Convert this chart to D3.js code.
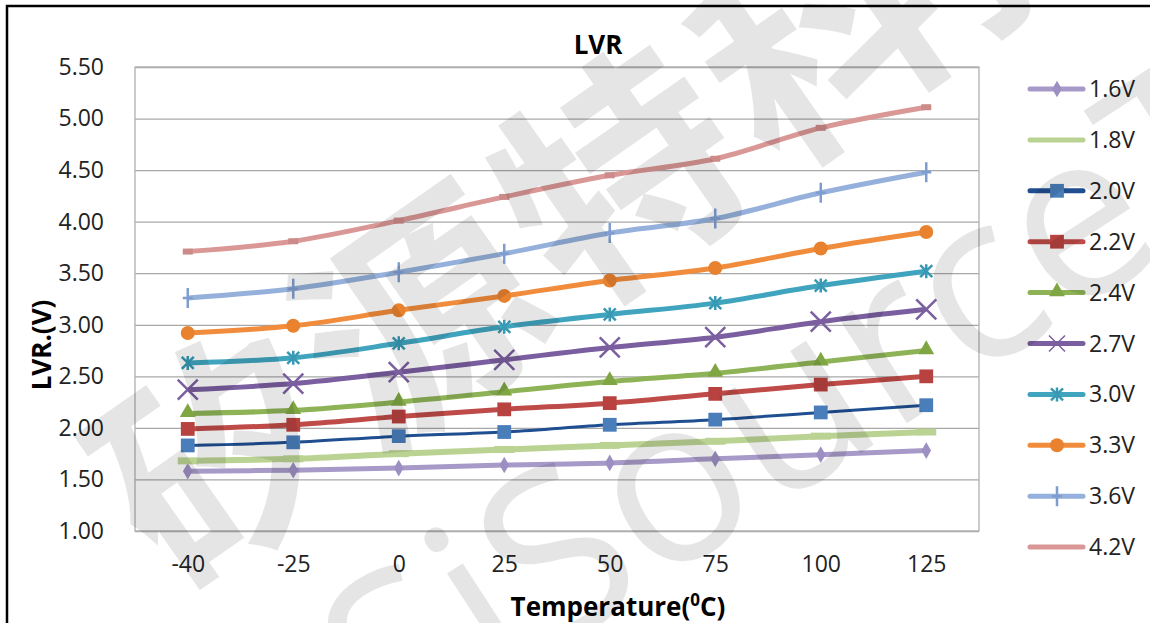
<!DOCTYPE html>
<html>
<head>
<meta charset="utf-8">
<script src="https://cdn.jsdelivr.net/npm/d3@7"></script>
<style>
  body { margin: 0; background: #fff; }
  svg text { font-family: "Open Sans", "Noto Sans", sans-serif; }
</style>
</head>
<body>
<svg id="svg" width="1150" height="623"></svg>
<script>
// temperatures on x axis
var temps = ['-40', '-25', '0', '25', '50', '75', '100', '125'];
var yTicks = [1.00, 1.50, 2.00, 2.50, 3.00, 3.50, 4.00, 4.50, 5.00, 5.50];

var names = ['1.6V', '1.8V', '2.0V', '2.2V', '2.4V', '2.7V', '3.0V', '3.3V', '3.6V', '4.2V'];
var v16 = [1.58, 1.59, 1.61, 1.64, 1.66, 1.70, 1.74, 1.78];
var v18 = [1.68, 1.70, 1.75, 1.79, 1.83, 1.87, 1.92, 1.96];
var v20 = [1.83, 1.86, 1.92, 1.96, 2.03, 2.08, 2.15, 2.22];
var v22 = [1.99, 2.03, 2.11, 2.18, 2.24, 2.33, 2.42, 2.50];
var v24 = [2.14, 2.17, 2.25, 2.35, 2.45, 2.53, 2.64, 2.75];
var v27 = [2.37, 2.43, 2.54, 2.66, 2.78, 2.88, 3.03, 3.15];
var v30 = [2.63, 2.68, 2.82, 2.98, 3.10, 3.21, 3.38, 3.52];
var v33 = [2.92, 2.99, 3.14, 3.28, 3.43, 3.55, 3.74, 3.90];
var v36 = [3.26, 3.35, 3.51, 3.69, 3.89, 4.03, 4.28, 4.48];
var v42 = [3.71, 3.81, 4.01, 4.24, 4.45, 4.61, 4.91, 5.11];
var values = [v16, v18, v20, v22, v24, v27, v30, v33, v36, v42];

// line colour, marker colour, marker kind, line width
var styles = [
    {line: '#a79ac8', mark: '#9d8fc2', kind: 'diamond', w: 5},
    {line: '#bad392', mark: '#bad392', kind: 'dash', w: 6},
    {line: '#1f4f91', mark: '#4a7ebb', kind: 'square', w: 3},
    {line: '#be4b48', mark: '#b8423f', kind: 'square', w: 5},
    {line: '#8eb356', mark: '#7fa643', kind: 'triangle', w: 5},
    {line: '#7b5ea0', mark: '#7b5ea0', kind: 'x', w: 5},
    {line: '#40a4bf', mark: '#3799b4', kind: 'star', w: 5},
    {line: '#f08c3c', mark: '#e9822e', kind: 'circle', w: 5},
    {line: '#95b1db', mark: '#7f9dd0', kind: 'plus', w: 5},
    {line: '#d99795', mark: '#cc8a88', kind: 'smalldash', w: 5}
];

var svg = d3.select("#svg");

var plot = {left: 135, top: 67, right: 979, bottom: 531};

var xScale = d3.scalePoint()
    .domain(temps)
    .range([plot.left, plot.right])
    .padding(0.5);

var yScale = d3.scaleLinear()
    .domain([1, 5.5])
    .range([plot.bottom, plot.top]);

// outer frame (left + top)
svg.append("path")
    .attr("d", "M7,623V6H1150")
    .attr("fill", "none")
    .attr("stroke", "#000")
    .attr("stroke-width", 2.5);

// grid
var grid = svg.append("g")
    .attr("transform", "translate(" + plot.left + ",0)")
    .call(d3.axisLeft(yScale)
        .tickValues(yTicks)
        .tickSize(-(plot.right - plot.left))
        .tickFormat(""));
grid.select(".domain").remove();
grid.selectAll("line").attr("stroke", "#a8a8a8").attr("stroke-width", 1.3);

svg.append("rect")
    .attr("x", plot.left).attr("y", plot.top)
    .attr("width", plot.right - plot.left)
    .attr("height", plot.bottom - plot.top)
    .attr("fill", "none")
    .attr("stroke", "#b0b0b0")
    .attr("stroke-width", 1.3);

// y labels
var yAxis = svg.append("g")
    .attr("transform", "translate(" + plot.left + ",0)")
    .call(d3.axisLeft(yScale)
        .tickValues(yTicks)
        .tickSize(0)
        .tickPadding(31)
        .tickFormat(d3.format(".2f")));
yAxis.select(".domain").remove();
yAxis.selectAll("text")
    .attr("font-size", 23)
    .attr("fill", "#222");

// x labels
var xAxis = svg.append("g")
    .attr("transform", "translate(0," + plot.bottom + ")")
    .call(d3.axisBottom(xScale).tickSize(0).tickPadding(25));
xAxis.select(".domain").remove();
xAxis.selectAll("text")
    .attr("font-size", 23)
    .attr("fill", "#222");

// titles
svg.append("text")
    .attr("x", 598).attr("y", 54)
    .attr("text-anchor", "middle")
    .attr("font-size", 26).attr("font-weight", "bold")
    .text("LVR");

svg.append("text")
    .attr("transform", "translate(51,345) rotate(-90)")
    .attr("text-anchor", "middle")
    .attr("font-size", 26).attr("font-weight", "bold")
    .text("LVR.(V)");

var xt = svg.append("text")
    .attr("x", 618).attr("y", 616)
    .attr("text-anchor", "middle")
    .attr("font-size", 26).attr("font-weight", "bold");
xt.append("tspan").text("Temperature(");
xt.append("tspan").attr("font-size", 17).attr("dy", -10).text("0");
xt.append("tspan").attr("dy", 10).text("C)");

// markers
function drawMarker(g, kind, color, big) {
    if (kind === 'diamond') {
        g.append("path").attr("d", d3.symbol(d3.symbolDiamond, 80)).attr("fill", color);
    } else if (kind === 'square') {
        g.append("path").attr("d", d3.symbol(d3.symbolSquare, 190)).attr("fill", color);
    } else if (kind === 'triangle') {
        g.append("path").attr("d", d3.symbol(d3.symbolTriangle, 110)).attr("fill", color)
            .attr("transform", "translate(0,-1)");
    } else if (kind === 'circle') {
        g.append("circle").attr("r", 7).attr("fill", color);
    } else if (kind === 'x') {
        var s = big ? 10 : 8;
        g.append("path").attr("d", "M" + (-s) + "," + (-s) + "L" + s + "," + s + "M" + (-s) + "," + s + "L" + s + "," + (-s))
            .attr("stroke", color).attr("stroke-width", big ? 2.5 : 1.5).attr("fill", "none");
    } else if (kind === 'star') {
        g.append("path").attr("d", "M-6,-6L6,6M-6,6L6,-6M0,-7V7")
            .attr("stroke", color).attr("stroke-width", 2.5).attr("fill", "none");
    } else if (kind === 'plus') {
        g.append("path").attr("d", "M0,-10V10M-5,0H5")
            .attr("stroke", color).attr("stroke-width", 2.5).attr("fill", "none");
    } else if (kind === 'dash') {
        g.append("path").attr("d", "M-10,0H10")
            .attr("stroke", color).attr("stroke-width", 7).attr("fill", "none");
    } else if (kind === 'smalldash') {
        g.append("path").attr("d", "M-5,0H5")
            .attr("stroke", color).attr("stroke-width", 6).attr("fill", "none");
    }
}

var line = d3.line()
    .x(function(d, i) { return xScale(temps[i]); })
    .y(function(d) { return yScale(d); })
    .curve(d3.curveCatmullRom.alpha(0));

var seriesG = svg.append("g");
values.forEach(function(vals, k) {
    var st = styles[k];
    var g = seriesG.append("g");
    g.append("path")
        .attr("d", line(vals))
        .attr("fill", "none")
        .attr("stroke", st.line)
        .attr("stroke-width", st.w)
        .attr("stroke-linejoin", "round");
    vals.forEach(function(v, i) {
        var m = g.append("g")
            .attr("transform", "translate(" + xScale(temps[i]) + "," + yScale(v) + ")");
        drawMarker(m, st.kind, st.mark, true);
    });
});

// legend
var legend = svg.append("g");
names.forEach(function(n, k) {
    var st = styles[k];
    var y = 89 + k * 50.9;
    legend.append("line")
        .attr("x1", 1030).attr("x2", 1083)
        .attr("y1", y).attr("y2", y)
        .attr("stroke", st.line).attr("stroke-width", 5)
        .attr("stroke-linecap", "round");
    if (st.kind !== 'dash' && st.kind !== 'smalldash') {
        var m = legend.append("g").attr("transform", "translate(1057," + y + ")");
        drawMarker(m, st.kind, st.mark, false);
    }
    legend.append("text")
        .attr("x", 1089).attr("y", y)
        .attr("dy", "0.35em")
        .attr("font-size", 23)
        .attr("fill", "#222")
        .text(n);
});

// watermark on top
var wm = svg.append("g").attr("fill", "rgba(0,0,0,0.1)").attr("pointer-events", "none");
wm.append("text")
    .attr("transform", "translate(220,455) rotate(-35)")
    .attr("x", -120).attr("dy", "0.38em")
    .attr("font-size", 235)
    .attr("font-weight", "bold")
    .attr("letter-spacing", 10)
    .style("font-family", "'Noto Sans CJK SC', sans-serif")
    .text("矽源特科技");
var lat = wm.append("text")
    .attr("transform", "translate(555,552) rotate(-33)")
    .attr("dy", "0.36em")
    .attr("font-size", 232)
    .style("font-family", "'Open Sans', sans-serif")
    .text("SiSourceTech");
// centre the second "S" on the anchor point
var node = lat.node();
var off = node.getSubStringLength(0, 2) + node.getSubStringLength(2, 1) / 2;
lat.attr("x", -off);
</script>
</body>
</html>
